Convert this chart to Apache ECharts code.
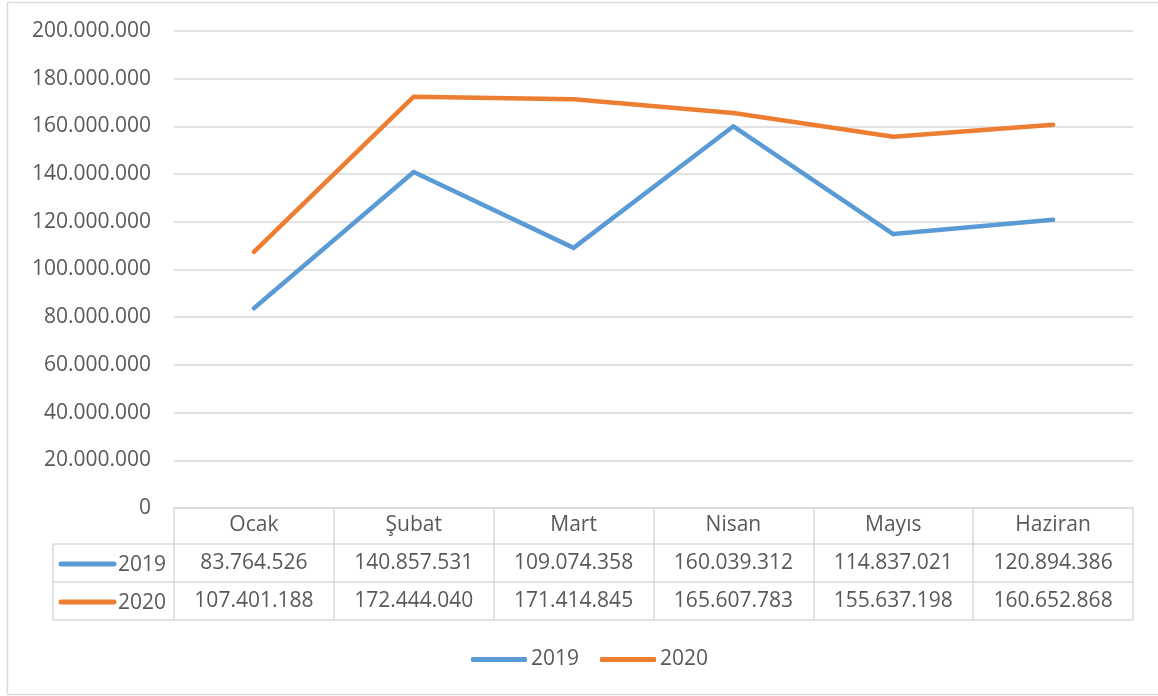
<!DOCTYPE html>
<html>
<head>
<meta charset="utf-8">
<script src="https://cdn.jsdelivr.net/npm/echarts@6.0.0/dist/echarts.min.js"></script>
<style>
  html, body { margin: 0; padding: 0; background: #fff; }
  #chart { width: 1158px; height: 696px; }
</style>
</head>
<body>
<div id="chart"></div>
<script>
// data
const months = ['Ocak', 'Şubat', 'Mart', 'Nisan', 'Mayıs', 'Haziran']
const v2019 = [83764526, 140857531, 109074358, 160039312, 114837021, 120894386]
const v2020 = [107401188, 172444040, 171414845, 165607783, 155637198, 160652868]
const seriesNames = ['2019', '2020']
const colors = ['#5B9BD5', '#ED7D31']

const FONT = '"Open Sans", sans-serif'
const TEXT = '#595959'
const LINE = '#d9d9d9'

// layout of plot + data table
const W = 1158, H = 696
const gridLeft = 174, gridRight = 1133, gridTop = 31, axisY = 508
const rowLines = [36, 74, 112] // offsets below the axis
const tableLeft = 53

const fmt = n => String(n).replace(/\B(?=(\d{3})+(?!\d))/g, '.')

const chart = echarts.init(document.getElementById('chart'), null, { renderer: 'canvas' })

const graphic = [
  // outer frame
  {
    type: 'rect',
    shape: { x: 7.5, y: 2.5, width: W, height: H - 4 },
    style: { fill: 'none', stroke: LINE, lineWidth: 1.5 },
    silent: true,
  },
  // left column of the table
  {
    type: 'line',
    shape: { x1: tableLeft, y1: axisY + rowLines[0], x2: tableLeft, y2: axisY + rowLines[2] },
    style: { stroke: LINE, lineWidth: 1.5 },
  },
]
rowLines.forEach(off => {
  graphic.push({
    type: 'line',
    shape: { x1: tableLeft, y1: axisY + off, x2: gridRight, y2: axisY + off },
    style: { stroke: LINE, lineWidth: 1.5 },
  })
})
seriesNames.forEach((name, i) => {
  const yc = axisY + (rowLines[i] + rowLines[i + 1]) / 2 + 1
  graphic.push({
    type: 'line',
    shape: { x1: 61, y1: yc, x2: 114, y2: yc },
    style: { stroke: colors[i], lineWidth: 5, lineCap: 'round' },
  })
  graphic.push({
    type: 'text',
    x: 118,
    y: yc + 1,
    style: { text: name, fill: TEXT, font: '21px ' + FONT, textVerticalAlign: 'middle' },
  })
})

const option = {
  animation: false,
  textStyle: { fontFamily: FONT },
  grid: {
    left: gridLeft,
    right: W - gridRight,
    top: gridTop,
    bottom: H - axisY,
  },
  legend: {
    data: seriesNames,
    bottom: 26,
    left: 471,
    padding: 0,
    icon: 'roundRect',
    itemWidth: 56,
    itemHeight: 5,
    itemGap: 21,
    textStyle: { color: TEXT, fontSize: 21, fontFamily: FONT, padding: [0, 0, 0, -1] },
  },
  xAxis: {
    type: 'category',
    data: months,
    boundaryGap: true,
    axisLine: { show: true, lineStyle: { color: LINE, width: 1.5 } },
    axisTick: { show: true, length: rowLines[2], lineStyle: { color: LINE, width: 1.5 } },
    axisLabel: {
      color: TEXT,
      fontSize: 21,
      fontFamily: FONT,
      lineHeight: 38,
      margin: -2,
      interval: 0,
      formatter: (value, idx) => [value, fmt(v2019[idx]), fmt(v2020[idx])].join('\n'),
    },
    splitLine: { show: false },
  },
  yAxis: {
    type: 'value',
    min: 0,
    max: 200000000,
    interval: 20000000,
    axisLine: { show: false },
    axisTick: { show: false },
    axisLabel: {
      color: TEXT,
      fontSize: 21,
      fontFamily: FONT,
      margin: 23,
      formatter: v => fmt(v),
    },
    splitLine: { lineStyle: { color: LINE, width: 1.5 } },
  },
  series: [
    {
      name: seriesNames[0],
      type: 'line',
      data: v2019,
      symbol: 'none',
      itemStyle: { color: colors[0] },
      lineStyle: { color: colors[0], width: 4.5, cap: 'round', join: 'round' },
    },
    {
      name: seriesNames[1],
      type: 'line',
      data: v2020,
      symbol: 'none',
      itemStyle: { color: colors[1] },
      lineStyle: { color: colors[1], width: 4.5, cap: 'round', join: 'round' },
    },
  ],
  graphic: graphic,
}

chart.setOption(option)
</script>
</body>
</html>
